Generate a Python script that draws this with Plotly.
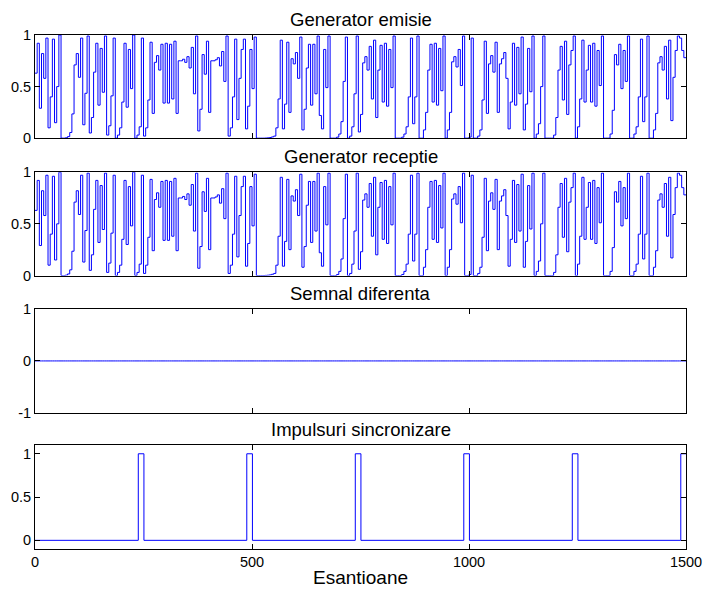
import numpy as np
import plotly.graph_objects as go

# Generator output: one value per hold interval of 5 samples (300 intervals, 1500 samples)
gen_values = [
    0.63, 0.92, 0.29, 0.82, 0.58, 0.97, 0.10, 0.40, 0.96, 0.15,
    0.50, 1.00, 0.00, 0.00, 0.004, 0.015, 0.055, 0.235, 0.71, 0.82,
    0.59, 0.97, 0.13, 0.435, 0.99, 0.05, 0.20, 0.64, 0.92, 0.32,
    0.87, 0.445, 0.99, 0.03, 0.12, 0.41, 0.97, 0.00, 0.03, 0.10,
    0.35, 0.92, 0.30, 0.86, 0.48, 1.00, 0.00, 0.03, 0.11, 0.97,
    0.02, 0.10, 0.37, 0.93, 0.24, 0.735, 0.80, 0.66, 0.91, 0.34,
    0.92, 0.34, 0.91, 0.38, 0.94, 0.24, 0.75, 0.75, 0.765, 0.735,
    0.79, 0.68, 0.88, 0.43, 0.99, 0.07, 0.28, 0.81, 0.62, 0.94,
    0.25, 0.75, 0.75, 0.76, 0.78, 0.70, 0.84, 0.55, 0.99, 0.02,
    0.10, 0.40, 0.96, 0.18, 0.58, 0.86, 0.96, 0.09, 0.31, 0.86,
    0.48, 0.98, 0.00, 0.00, 0.00, 0.00, 0.001, 0.003, 0.006, 0.012,
    0.02, 0.10, 0.38, 0.95, 0.09, 0.33, 0.93, 0.25, 0.77, 0.72,
    0.83, 0.58, 0.98, 0.08, 0.28, 0.68, 0.91, 0.32, 0.91, 0.43,
    0.99, 0.22, 0.09, 0.86, 0.49, 0.99, 0.00, 0.00, 0.00, 0.01,
    0.04, 0.16, 0.55, 0.98, 0.00, 0.02, 0.11, 0.43, 0.99, 0.06,
    0.23, 0.73, 0.79, 0.66, 0.89, 0.38, 0.95, 0.20, 0.66, 0.90,
    0.35, 0.92, 0.31, 0.86, 0.49, 0.99, 0.00, 0.00, 0.00, 0.01,
    0.04, 0.11, 0.40, 0.97, 0.14, 0.40, 0.99, 0.00, 0.00, 0.08,
    0.25, 0.66, 0.91, 0.35, 0.92, 0.32, 0.87, 0.46, 0.99, 0.00,
    0.08, 0.25, 0.74, 0.79, 0.69, 0.86, 0.51, 0.99, 0.00, 0.00,
    0.01, 0.97, 0.00, 0.00, 0.02, 0.08, 0.37, 0.94, 0.24, 0.72,
    0.80, 0.64, 0.93, 0.25, 0.72, 0.77, 0.83, 0.58, 0.09, 0.35,
    0.92, 0.32, 0.88, 0.43, 0.98, 0.08, 0.33, 0.87, 0.45, 0.99,
    0.00, 0.04, 0.14, 0.50, 0.99, 0.00, 0.00, 0.00, 0.00, 0.03,
    0.20, 0.66, 0.89, 0.37, 0.94, 0.23, 0.71, 0.85, 0.99, 0.00,
    0.11, 0.38, 0.95, 0.35, 0.66, 0.90, 0.35, 0.92, 0.31, 0.85,
    0.51, 0.99, 0.00, 0.00, 0.00, 0.04, 0.27, 0.81, 0.71, 0.91,
    0.48, 0.85, 0.55, 0.99, 0.00, 0.00, 0.04, 0.11, 0.40, 0.96,
    0.16, 0.40, 0.99, 0.00, 0.00, 0.08, 0.24, 0.73, 0.79, 0.66,
    0.89, 0.38, 0.95, 0.17, 0.59, 0.85, 0.99, 0.97, 0.85, 0.78,
]
hold_len = 5
n_samples = 1500

# Synchronisation pulses: (rising sample, falling sample)
sync_pulses = [(238, 251), (488, 501), (738, 751), (988, 1001), (1238, 1251), (1488, 1500)]

titles = ["Generator emisie", "Generator receptie", "Semnal diferenta", "Impulsuri sincronizare"]
x_label = "Esantioane"
x_ticks = [0, 500, 1000, 1500]

# --- build series -------------------------------------------------------
tx = np.arange(len(gen_values)) * hold_len
emit_x = np.append(tx, n_samples)
emit_y = np.append(gen_values, gen_values[-1])
recv_y = emit_y.copy()
diff_y = emit_y - recv_y

sync_x = [0]
sync_y = [0]
for up, down in sync_pulses:
    sync_x += [up, down]
    sync_y += [1, 0 if down < n_samples else 1]
if sync_x[-1] < n_samples:
    sync_x.append(n_samples)
    sync_y.append(sync_y[-1])

FONT = "Liberation Sans, Arial, Helvetica, sans-serif"
BLUE = "#0000ff"

fig = go.Figure()
series = [(emit_x, emit_y), (emit_x, recv_y), (emit_x, diff_y), (sync_x, sync_y)]
for i, (sx, sy) in enumerate(series, start=1):
    fig.add_trace(go.Scatter(
        x=sx, y=sy, mode="lines", line=dict(color=BLUE, width=1, shape="hv"),
        xaxis=f"x{i}", yaxis=f"y{i}", showlegend=False, hoverinfo="skip",
    ))

# panel domains (top panel first)
domains = [(0.7993, 1.0), (0.5321, 0.7332), (0.2654, 0.4664), (0.0, 0.2021)]
y_ranges = [[0, 1], [0, 1], [-1, 1], [-0.1, 1.1]]
y_tickvals = [[0, 0.5, 1], [0, 0.5, 1], [-1, 0, 1], [0, 0.5, 1]]
y_ticktext = [["0", "0.5", "1"], ["0", "0.5", "1"], ["-1", "0", "1"], ["0", "0.5", "1"]]

axis_common = dict(
    showline=True, linecolor="black", linewidth=1, mirror="ticks",
    ticks="inside", ticklen=5, tickcolor="black", tickwidth=1,
    showgrid=False, zeroline=False, automargin=False,
    tickfont=dict(family=FONT, size=14.5, color="black"),
)

layout = dict(
    width=704, height=598,
    margin=dict(l=35, r=18, t=35, b=49),
    paper_bgcolor="white", plot_bgcolor="white",
    font=dict(family=FONT, color="black"),
    annotations=[],
)
for i in range(1, 5):
    xa = dict(axis_common, domain=[0, 1], range=[0, n_samples], anchor=f"y{i}",
              tickvals=x_ticks, showticklabels=(i == 4))
    ya = dict(axis_common, domain=list(domains[i - 1]), range=y_ranges[i - 1],
              anchor=f"x{i}", tickvals=y_tickvals[i - 1], ticktext=y_ticktext[i - 1])
    layout["xaxis" if i == 1 else f"xaxis{i}"] = xa
    layout["yaxis" if i == 1 else f"yaxis{i}"] = ya
    layout["annotations"].append(dict(
        text=titles[i - 1], x=0.5, xref="paper", y=domains[i - 1][1], yref="paper",
        xanchor="center", yanchor="bottom", yshift=3, showarrow=False,
        font=dict(family=FONT, size=18.5, color="black"),
    ))

layout["annotations"].append(dict(
    text=x_label, x=0.5, xref="paper", y=0, yref="paper",
    xanchor="center", yanchor="top", yshift=-16, showarrow=False,
    font=dict(family=FONT, size=19, color="black"),
))

fig.update_layout(**layout)
fig.write_html("out.html")
